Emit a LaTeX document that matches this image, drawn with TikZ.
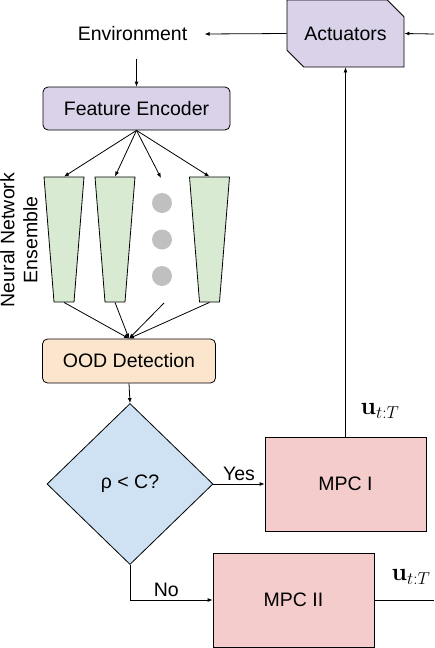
\documentclass[tikz,border=0pt]{standalone}
\usepackage[no-math]{fontspec}
\setmainfont{Liberation Sans}
\usepackage{amsmath}
\usetikzlibrary{arrows.meta}
\usetikzlibrary{shapes.geometric}
\usetikzlibrary{shapes.misc}
\definecolor{lavender}{HTML}{D9D2E9}
\definecolor{netgreen}{HTML}{D9EAD3}
\definecolor{oodorange}{HTML}{FCE5CD}
\definecolor{diablue}{HTML}{CFE2F3}
\definecolor{mpcpink}{HTML}{F4CCCC}
\definecolor{dotgray}{HTML}{C0C0C0}
\begin{document}
\begin{tikzpicture}[x=1pt, y=-1pt, line width=0.8pt, >={Latex[length=5pt,width=4pt]},
  every node/.style={font=\fontsize{19.5}{23}\selectfont},
  roundbox/.style={draw, rounded corners=5pt, inner sep=0pt},
  mpcbox/.style={draw, fill=mpcpink, minimum width=161pt, minimum height=94pt, inner sep=0pt},
  net/.style={draw, fill=netgreen, trapezium, shape border rotate=180, trapezium angle=63.43,
    trapezium stretches=true, minimum width=40pt, minimum height=125pt, inner sep=1pt},
  ensdot/.style={circle, fill=dotgray, minimum size=20pt, inner sep=0pt},
  ulabel/.style={font=\fontsize{25}{27}\selectfont}]
\useasboundingbox (0,0) rectangle (434,648);

\node[draw, fill=lavender, chamfered rectangle, chamfered rectangle corners={north east, south west},
  chamfered rectangle sep=10pt, minimum width=117pt, minimum height=67pt, inner sep=0pt] (act) at (345.5,33.5) {Actuators};
\node[inner sep=17pt] (env) at (132.5,34) {Environment};
\node[roundbox, fill=lavender, minimum width=187pt, minimum height=43pt] (fe) at (136.5,108.5) {Feature Encoder};

\node[net] (n1) at (64,239.5) {};
\node[net] (n2) at (115,239.5) {};
\node[net] (n4) at (209.5,239.5) {};
\node[ensdot] (d1) at (162,203) {};
\node[ensdot] (d2) at (162,239.5) {};
\node[ensdot] (d3) at (162,276) {};
\coordinate (dtop) at (161,178);
\coordinate (dbot) at (164,303);

\node[rotate=90, align=center] (ens) at (19,240) {Neural Network\\Ensemble};

\node[roundbox, fill=oodorange, minimum width=173pt, minimum height=44pt] (ood) at (129,361) {OOD Detection};
\node[draw, fill=diablue, diamond, minimum width=166pt, minimum height=161pt, inner sep=0pt] (dia) at (130,484) {ρ < C?};
\node[mpcbox] (mpc1) at (345.5,484) {MPC I};
\node[mpcbox] (mpc2) at (293.5,600) {MPC II};

\node[ulabel] (u1) at (380,411) {$\mathbf{u}_{t:T}$};
\node[ulabel] (u2) at (411,577) {$\mathbf{u}_{t:T}$};
\coordinate (inR) at (434,34);
\coordinate (outR) at (434,600);

\draw [->] (inR) -- (act.east);
\draw [->] (act.west) -- (env.east);
\draw [->] (env.south -| fe.north) -- (fe.north);

\draw [->] (fe.south) -- (n1.north);
\draw [->] (fe.south) -- (n2.north);
\draw [->] (fe.south) -- (dtop);
\draw [->] (fe.south) -- (n4.north);

\draw [->] (n1.south) -- (ood.north);
\draw [->] (n2.south) -- (ood.north);
\draw [->] (dbot) -- (ood.north);
\draw [->] (n4.south) -- (ood.north);

\draw [->] (ood.south) -- (dia.north);
\draw [->] (dia.east) -- (mpc1.west) node[midway, above] {Yes};
\draw [->] (dia.south) |- (mpc2.west) node[pos=0.72, above] {No};
\draw [->] (mpc1.north) -- (act.south);
\draw (mpc2.east) -- (outR);
\end{tikzpicture}
\end{document}
